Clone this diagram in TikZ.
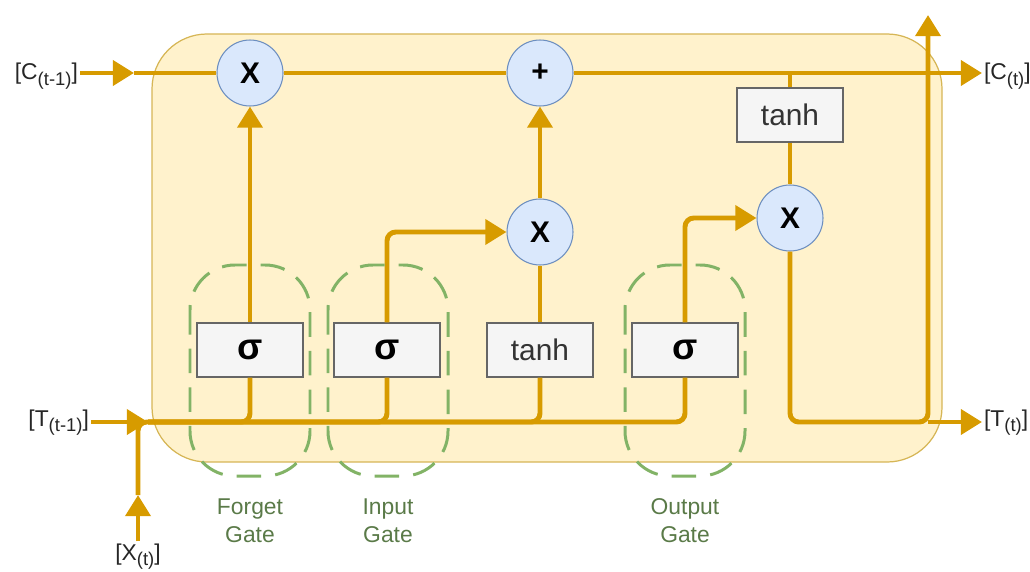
\documentclass[tikz,border=0pt]{standalone}
\usepackage{fontspec}
\setmainfont{Liberation Sans}
\usetikzlibrary{arrows.meta,positioning,calc}
\definecolor{Flow}{HTML}{D79B00}
\definecolor{CellFill}{HTML}{FFF2CC}
\definecolor{CellLine}{HTML}{D6B656}
\definecolor{OpFill}{HTML}{DAE8FC}
\definecolor{OpLine}{HTML}{6C8EBF}
\definecolor{ActFill}{HTML}{F5F5F5}
\definecolor{ActLine}{HTML}{666666}
\definecolor{GateLine}{HTML}{82B366}
\definecolor{GateText}{HTML}{5A7A48}
\newcommand{\tsub}[1]{\raisebox{-0.45ex}{\fontsize{10.5}{11}\selectfont #1}}
\tikzset{
  flow/.style={draw=Flow,line width=2.8pt,rounded corners=5pt},
  tip/.style={-{Triangle[length=12pt,width=14pt]}},
  op/.style={circle,draw=OpLine,fill=OpFill,line width=0.6pt,minimum size=1.32cm,
    inner sep=0pt,font=\fontsize{17}{17}\selectfont\bfseries},
  act/.style={rectangle,draw=ActLine,fill=ActFill,line width=0.7pt,minimum width=2.12cm,
    minimum height=1.08cm,inner sep=0pt,text=black!80,font=\fontsize{17}{17}\selectfont},
  sig/.style={act,font=\fontsize{21}{21}\selectfont\bfseries,text=black},
  gatebox/.style={draw=GateLine,line width=1.7pt,dash pattern=on 14pt off 8pt,rounded corners=0.9cm},
  gatelabel/.style={text=GateText,align=center,font=\fontsize{13}{16}\selectfont},
  ioname/.style={text=black!85,font=\fontsize{13}{14}\selectfont,inner sep=1pt},
}

\begin{document}
\begin{tikzpicture}[x=0.02cm,y=-0.02cm]
\useasboundingbox (0,0) rectangle (1030,571);
% cell body
\draw[CellLine,fill=CellFill,line width=0.7pt,rounded corners=1.1cm] (152,34) rectangle (942,462);

% point-wise operations
\node[op] (fx) at (250,73) {X};
\node[op] (add) at (540,73) {+};
\node[op] (ix) at (540,232) {X};
\node[op] (ox) at (790,218) {X};

% layers
\node[sig] (fs) at (250,350) {σ};
\node[sig] (is) at (387,350) {σ};
\node[act] (gt) at (540,350) {tanh};
\node[sig] (os) at (685,350) {σ};
\node[act] (ct) at (790,115) {tanh};

% inputs and outputs
\node[ioname,anchor=base east] (cin) at (80,80) {[C\tsub{(t-1)}]};
\node[ioname,anchor=base east] (tin) at (91,426) {[T\tsub{(t-1)}]};
\node[ioname,anchor=base] (xin) at (138,560) {[X\tsub{(t)}]};
\node[ioname,anchor=base west] (cout) at (982,80) {[C\tsub{(t)}]};
\node[ioname,anchor=base west] (tout) at (982,426) {[T\tsub{(t)}]};

\coordinate (cjoin) at (134,73);
\coordinate (tjoin) at (148,422);
\coordinate (xjoin) at (138,495);
\coordinate (hjoin) at (928,422);
\coordinate (hup) at (928,15);

% cell state
\draw[flow,tip] (cin.east |- cjoin) -- (cjoin);
\draw[flow] (cjoin) -- (fx);
\draw[flow] (fx) -- (add);
\draw[flow,tip] (add) -- (cout.west |- cjoin);
\draw[flow] (ct) -- (ct |- cjoin);
\draw[flow] (ct) -- (ox);

% hidden state bus
\draw[flow,tip] (tin.east |- tjoin) -- (tjoin);
\draw[flow,tip] (xin.north) -- (xjoin);
\draw[flow] (xjoin) |- (tjoin);
\draw[flow] (tjoin) -| (fs.south);
\draw[flow] (tjoin) -| (is.south);
\draw[flow] (tjoin) -| (gt.south);
\draw[flow] (tjoin) -| (os.south);

% gates
\draw[flow,tip] (fs) -- (fx);
\draw[flow,tip] (is.north) |- (ix.west);
\draw[flow] (gt) -- (ix);
\draw[flow,tip] (ix) -- (add);
\draw[flow,tip] (os.north) |- (ox.west);

% output
\draw[flow,tip] (ox.south) |- (hjoin) -- (hup);
\draw[flow,tip] (hjoin) -- (tout.west |- hjoin);

% gate outlines
\draw[gatebox] (190,265) rectangle (310,476);
\draw[gatebox] (328,265) rectangle (448,476);
\draw[gatebox] (625,265) rectangle (745,476);
\node[gatelabel] (fgate) at (250,521) {Forget\\Gate};
\node[gatelabel] (igate) at (388,521) {Input\\Gate};
\node[gatelabel] (ogate) at (685,521) {Output\\Gate};
\end{tikzpicture}
\end{document}
